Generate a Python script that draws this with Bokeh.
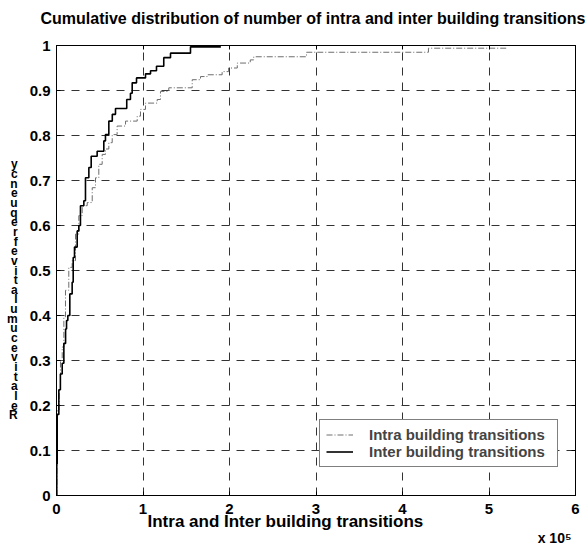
from bokeh.plotting import figure
from bokeh.models import LinearAxis, FixedTicker, Range1d, Legend, LegendItem, Title
from bokeh.embed import file_html
from bokeh.resources import INLINE

TITLE = "Cumulative distribution of number of intra and inter building transitions"
X_LABEL = "Intra and Inter building transitions"
Y_LABEL = "Relative cumulative frequency"
X_SCALE_LABEL = "x 10\u2075"
X_TICKS = [0, 1, 2, 3, 4, 5, 6]
Y_TICKS = [0, 0.1, 0.2, 0.3, 0.4, 0.5, 0.6, 0.7, 0.8, 0.9, 1]
Y_TICK_LABELS = ["0", "0.1", "0.2", "0.3", "0.4", "0.5", "0.6", "0.7", "0.8", "0.9", "1"]
SERIES_NAMES = ["Intra building transitions", "Inter building transitions"]

# x in units of 10^5 transitions
intra_x = [0.0, 0.004, 0.01, 0.03, 0.046, 0.066, 0.085, 0.104, 0.142, 0.181, 0.22,
           0.258, 0.297, 0.355, 0.413, 0.451, 0.489, 0.528, 0.566, 0.605, 0.644,
           0.701, 0.798, 0.933, 0.971, 1.029, 1.164, 1.202, 1.298, 1.569, 1.665,
           1.742, 1.915, 1.99, 2.09, 2.24, 2.28, 2.89, 4.30, 5.2]
intra_y = [0.0, 0.08, 0.19, 0.235, 0.30, 0.33, 0.397, 0.456, 0.507, 0.522, 0.581,
           0.622, 0.644, 0.651, 0.684, 0.706, 0.736, 0.758, 0.77, 0.784, 0.802,
           0.821, 0.832, 0.843, 0.858, 0.872, 0.880, 0.898, 0.906, 0.924, 0.931,
           0.935, 0.942, 0.950, 0.961, 0.968, 0.975, 0.985, 0.994, 0.994]

inter_x = [0.0, 0.003, 0.008, 0.027, 0.045, 0.066, 0.085, 0.105, 0.116, 0.131,
           0.154, 0.181, 0.193, 0.208, 0.239, 0.258, 0.277, 0.316, 0.335, 0.374,
           0.401, 0.47, 0.547, 0.566, 0.605, 0.645, 0.682, 0.812, 0.855, 0.875,
           0.925, 1.029, 1.087, 1.156, 1.24, 1.318, 1.549, 1.9]
inter_y = [0.0, 0.07, 0.18, 0.235, 0.27, 0.294, 0.338, 0.37, 0.389, 0.40,
           0.448, 0.474, 0.529, 0.552, 0.588, 0.60, 0.644, 0.655, 0.706, 0.729,
           0.754, 0.765, 0.788, 0.802, 0.832, 0.847, 0.86, 0.88, 0.894, 0.917,
           0.928, 0.937, 0.944, 0.954, 0.973, 0.983, 0.997, 0.997]

FONT = "Liberation Sans"

p = figure(width=585, height=546, x_range=Range1d(0, 6), y_range=Range1d(0, 1),
           output_backend="svg", toolbar_location=None,
           min_border_left=56, min_border_right=10, min_border_top=44, min_border_bottom=50)
p.outline_line_color = "black"
p.outline_line_width = 1
p.background_fill_color = "white"

# trailing empty line lifts the title line inside its panel
p.title.text = TITLE + "\n"
p.title.align = "left"
p.title.offset = -16
p.title.text_font = FONT
p.title.text_font_style = "bold"
p.title.text_font_size = "16px"
p.title.text_line_height = 0.62
p.title.text_color = "black"
p.title.vertical_align = "bottom"
p.title.standoff = 15

p.xaxis.ticker = FixedTicker(ticks=X_TICKS)
p.yaxis.ticker = FixedTicker(ticks=Y_TICKS)
p.yaxis.major_label_overrides = {t: s for t, s in zip(Y_TICKS, Y_TICK_LABELS)}

for ax in list(p.xaxis) + list(p.yaxis):
    ax.major_tick_in = 4
    ax.major_tick_out = 0
    ax.minor_tick_line_color = None
    ax.axis_line_color = "black"
    ax.major_tick_line_color = "black"
    ax.major_label_text_font = FONT
    ax.major_label_text_font_style = "bold"
    ax.major_label_text_font_size = "15px"
    ax.major_label_text_color = "black"
    ax.major_label_standoff = 6
p.xaxis.major_label_standoff = 8

# stacked y label (rendered letter-above-letter, reversed, as in the original)
stacked = "\n" * 4 + "\n".join(c for c in reversed(Y_LABEL) if c != " ")
p.yaxis.axis_label = stacked
p.yaxis.axis_label_orientation = "horizontal"
p.yaxis.axis_label_text_font = FONT
p.yaxis.axis_label_text_font_style = "bold"
p.yaxis.axis_label_text_font_size = "12px"
p.yaxis.axis_label_text_line_height = 0.69
p.yaxis.axis_label_text_color = "black"
p.yaxis.axis_label_standoff = 9

top_ax = LinearAxis(ticker=FixedTicker(ticks=X_TICKS), major_label_text_font_size="1px",
                    major_label_text_color=None, major_tick_in=4, major_tick_out=0,
                    minor_tick_line_color=None, axis_line_color="black",
                    major_label_standoff=0)
right_ax = LinearAxis(ticker=FixedTicker(ticks=Y_TICKS), major_label_text_font_size="1px",
                      major_label_text_color=None, major_tick_in=4, major_tick_out=0,
                      minor_tick_line_color=None, axis_line_color="black",
                      major_label_standoff=0)
p.add_layout(top_ax, "above")
p.add_layout(right_ax, "right")

p.xgrid.ticker = FixedTicker(ticks=X_TICKS)
p.ygrid.ticker = FixedTicker(ticks=Y_TICKS)
for g in (p.xgrid, p.ygrid):
    g.grid_line_color = "#333333"
    g.grid_line_dash = "8 7"
    g.grid_line_width = 1

r_intra = p.step(intra_x, intra_y, mode="after", line_color="#6e6e6e", line_width=1,
                 line_dash="6 2 1 2")
r_inter = p.step(inter_x, inter_y, mode="after", line_color="black", line_width=1.6)

legend = Legend(items=[LegendItem(label=SERIES_NAMES[0], renderers=[r_intra]),
                       LegendItem(label=SERIES_NAMES[1], renderers=[r_inter])],
                location=(263, 28), border_line_color="black", border_line_width=1,
                background_fill_color="white", background_fill_alpha=1,
                label_text_font=FONT, label_text_font_style="bold",
                label_text_font_size="15px", glyph_width=27, glyph_height=17,
                label_height=17, label_width=182, label_standoff=16, padding=6,
                spacing=0, margin=0)
p.add_layout(legend)

xlab = Title(text=X_LABEL, align="left", offset=91, vertical_align="top", standoff=-10,
             text_font=FONT, text_font_style="bold", text_font_size="17px",
             text_color="black")
p.add_layout(xlab, "below")
xscale = Title(text=X_SCALE_LABEL, align="right", offset=4, vertical_align="bottom",
               standoff=0.6, text_font=FONT, text_font_style="bold",
               text_font_size="14px", text_color="black")
p.add_layout(xscale, "below")

open("out.html", "w").write(file_html(p, INLINE))
